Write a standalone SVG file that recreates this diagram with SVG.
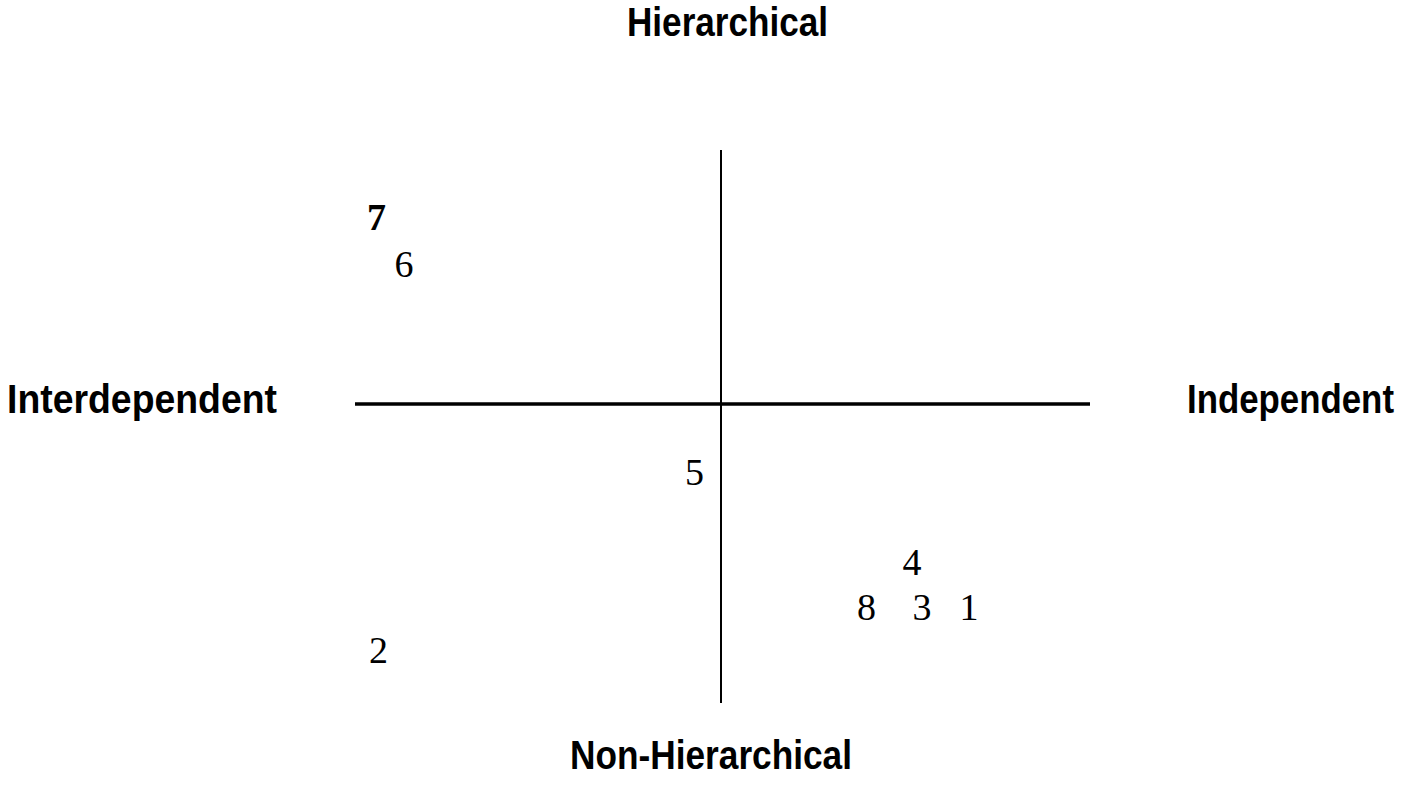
<svg xmlns="http://www.w3.org/2000/svg" width="1410" height="785" viewBox="0 0 1410 785">
<style>
.lbl{font-family:"Liberation Sans",Arial,sans-serif;font-weight:bold;font-size:40px;fill:#000}
.num{font-family:"Liberation Serif","Times New Roman",serif;font-size:38px;fill:#000;text-anchor:middle}
.b{font-weight:bold}
</style>
<rect width="1410" height="785" fill="#fff"/>
<g id="axes">
<line x1="721" y1="150" x2="721" y2="703" stroke="#000" stroke-width="2"/>
<line x1="355" y1="404" x2="1090" y2="404" stroke="#000" stroke-width="3.5"/>
</g>
<g id="labels">
<text id="top" class="lbl" x="627" y="36" textLength="201" lengthAdjust="spacingAndGlyphs">Hierarchical</text>
<text id="left" class="lbl" x="7" y="413" textLength="270" lengthAdjust="spacingAndGlyphs">Interdependent</text>
<text id="right" class="lbl" transform="translate(1187,413) scale(1,1.143)" x="0" y="0" style="font-size:35px" textLength="207" lengthAdjust="spacingAndGlyphs">Independent</text>
<text id="bottom" class="lbl" x="570" y="769" textLength="282" lengthAdjust="spacingAndGlyphs">Non-Hierarchical</text>
</g>
<g id="points">
<text id="n7" class="num b" x="376.5" y="230">7</text>
<text id="n6" class="num" x="404" y="277">6</text>
<text id="n5" class="num" x="694.5" y="485">5</text>
<text id="n4" class="num" x="912" y="575">4</text>
<text id="n8" class="num" x="866.5" y="620">8</text>
<text id="n3" class="num" x="922" y="620">3</text>
<text id="n1" class="num" x="969" y="620">1</text>
<text id="n2" class="num" x="378.5" y="663">2</text>
</g>
</svg>
